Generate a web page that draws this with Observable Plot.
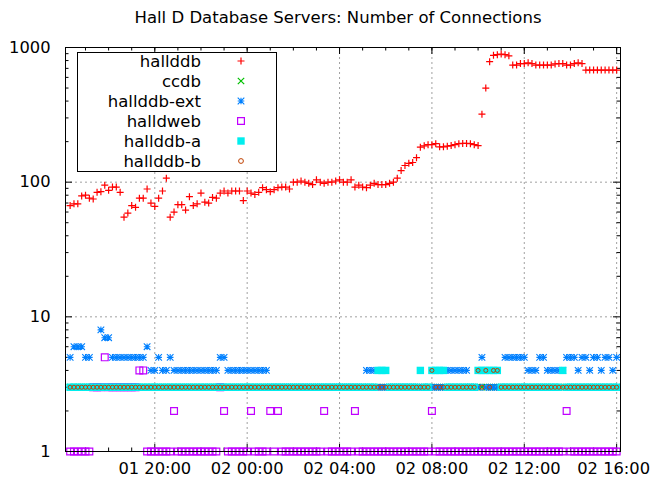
<!DOCTYPE html>
<html><head><meta charset="utf-8">
<script src="https://cdn.jsdelivr.net/npm/d3@7"></script>
<script src="https://cdn.jsdelivr.net/npm/@observablehq/plot@0.6"></script>
<style>body{margin:0;background:#fff;} svg{display:block}</style>
</head><body><div id="chart"></div>
<script>
const title = "Hall D Database Servers: Number of Connections";
const seriesNames = ["hallddb","ccdb","hallddb-ext","halldweb","hallddb-a","hallddb-b"];
const startTime = "2019-03-01T16:20:00Z";
const stepMinutes = 10;
const xDomain = ["2019-03-01T16:08:00Z","2019-03-02T16:10:00Z"];
const xTicks = ["2019-03-01T20:00:00Z","2019-03-02T00:00:00Z","2019-03-02T04:00:00Z","2019-03-02T08:00:00Z","2019-03-02T12:00:00Z","2019-03-02T16:00:00Z"];
const yTicks = [1,10,100,1000];
const yMinorTicks = [2,3,4,5,6,7,8,9,20,30,40,50,60,70,80,90,200,300,400,500,600,700,800,900];

const hallddb = [67,69,69,79,80,76,75,84,85,95,
 87,92,92,84,55,59,67,65,76,76,
 89,70,66,76,86,107,55,60,68,68,
 62,78,67,69,83,71,70,77,76,83,
 86,83,86,86,86,73,86,83,81,84,
 91,88,85,88,91,92,92,89,100,100,
 102,100,98,96,104,100,98,100,100,102,
 104,100,100,104,92,95,92,91,95,98,
 96,96,96,98,100,107,122,133,138,140,
 152,182,186,190,190,193,183,183,185,187,
 190,193,194,194,193,190,187,320,500,785,
 875,885,895,885,868,740,740,760,760,770,
 760,740,740,740,740,740,755,760,760,740,
 740,760,770,760,680,680,680,680,680,680,
 680,680,680];
const ccdb = [3,3,3,3,3,3,3,3,3,3, 3,3,3,3,3,3,3,3,3,3, 3,3,3,3,3,3,3,3,3,3, 3,3,3,3,3,3,3,3,3,3,
 3,3,3,3,3,3,3,3,3,3, 3,3,3,3,3,3,3,3,3,3, 3,3,3,3,3,3,3,3,3,3, 3,3,3,3,3,3,3,3,3,3,
 3,3,3,3,3,3,3,3,3,3, 3,3,3,3,3,3,3,3,3,3, 3,3,3,3,3,3,3,3,3,3, 3,3,3,3,3,3,3,3,3,3,
 3,3,3,3,3,3,3,3,3,3, 3,3,3,3,3,3,3,3,3,3, 3,3,3];
const hallddbExt = [5,6,6,6,5,5,3,3,8,7,
 7,5,5,5,5,5,5,5,5,5,
 6,4,4,5,4,4,5,4,4,4,
 4,4,4,4,4,4,4,4,4,5,
 5,4,4,4,4,4,4,4,4,4,
 4,4,3,3,3,3,3,3,3,3,
 3,3,3,3,3,3,3,3,3,3,
 3,3,3,3,3,3,3,4,4,4,
 3,3,3,3,3,3,3,3,3,3,
 3,3,3,3,3,3,3,3,4,4,
 4,4,4,4,3,3,3,5,3,3,
 3,3,3,5,5,5,5,5,5,4,
 4,4,5,5,4,4,4,4,4,5,
 5,5,4,5,5,4,5,5,4,5,
 5,4,5];
const halldweb = [1,1,1,1,1,1,3,3,3,5,
 3,3,3,3,3,3,3,3,4,4,
 1,1,1,1,1,1,1,2,1,1,
 1,1,1,1,1,1,1,1,1,3,
 2,1,1,1,1,1,1,2,1,1,
 1,1,2,1,2,1,1,1,1,1,
 1,1,1,1,1,1,2,1,1,1,
 1,1,1,1,2,1,1,1,1,1,
 1,1,1,1,1,1,1,1,1,1,
 1,1,1,1,2,1,1,1,1,1,
 1,1,1,1,1,1,1,1,1,1,
 1,1,1,1,1,1,1,1,1,1,
 1,1,1,1,1,1,1,1,1,2,
 1,1,1,1,1,1,1,1,1,1,
 1,1,1];
const hallddbA = [3,3,3,3,3,3,3,3,3,3, 3,3,3,3,3,3,3,3,3,3, 3,3,3,3,3,3,3,3,3,3, 3,3,3,3,3,3,3,3,3,3,
 3,3,3,3,3,3,3,3,3,3, 3,3,3,3,3,3,3,3,3,3, 3,3,3,3,3,3,3,3,3,3, 3,3,3,3,3,3,3,3,3,3,
 4,4,4,3,3,3,3,3,3,3,
 3,4,3,3,4,4,4,4,3,3,
 3,3,3,3,3,3,4,4,4,4,
 4,4,3,3,3,3,3,3,3,3,
 3,3,3,3,3,3,3,3,4,3,
 3,3,3,3,3,3,3,3,3,3, 3,3,3];
const hallddbB = [3,3,3,3,3,3,3,3,3,3, 3,3,3,3,3,3,3,3,3,3, 3,3,3,3,3,3,3,3,3,3, 3,3,3,3,3,3,3,3,3,3,
 3,3,3,3,3,3,3,3,3,3, 3,3,3,3,3,3,3,3,3,3, 3,3,3,3,3,3,3,3,3,3, 3,3,3,3,3,3,3,3,3,3,
 3,3,3,3,3,3,3,3,3,3,
 3,3,3,3,4,3,3,3,3,3,
 3,3,3,3,3,3,4,3,4,3,
 4,4,3,3,3,3,3,3,3,3,
 3,3,3,3,3,3,3,3,3,3,
 3,3,3,3,3,3,3,3,3,3, 3,3,3];

// ---- symbols (gnuplot-like point types) ----
const symPlus = {draw(c, s){const h=Math.sqrt(s/Math.PI); c.moveTo(-h,0);c.lineTo(h,0);c.moveTo(0,-h);c.lineTo(0,h);}};
const symTimes = {draw(c, s){const h=Math.sqrt(s/Math.PI); c.moveTo(-h,-h);c.lineTo(h,h);c.moveTo(-h,h);c.lineTo(h,-h);}};
const symStar = {draw(c, s){const h=Math.sqrt(s/Math.PI); c.moveTo(-h,0);c.lineTo(h,0);c.moveTo(0,-h);c.lineTo(0,h);c.moveTo(-h,-h);c.lineTo(h,h);c.moveTo(-h,h);c.lineTo(h,-h);}};
const symSquare = {draw(c, s){const h=Math.sqrt(s/Math.PI); c.moveTo(-h,-h);c.lineTo(h,-h);c.lineTo(h,h);c.lineTo(-h,h);c.closePath();}};
const symCircle = {draw(c, s){const h=Math.sqrt(s/Math.PI); c.moveTo(h,0);c.arc(0,0,h,0,2*Math.PI);}};

const styles = [
  {sym: symPlus,   r: 3.5, stroke: "#ff0000", fill: "none", sw: 1.2},
  {sym: symTimes,  r: 3.2, stroke: "#00c000", fill: "none", sw: 1.2},
  {sym: symStar,   r: 3.3, stroke: "#0080ff", fill: "none", sw: 1.1},
  {sym: symSquare, r: 3.4, stroke: "#c000ff", fill: "none", sw: 1.2},
  {sym: symSquare, r: 3.7, stroke: "none",    fill: "#00eeee", sw: 0},
  {sym: symCircle, r: 2.0, stroke: "#c04000", fill: "none", sw: 1.0}
];
const seriesValues = [hallddb, ccdb, hallddbExt, halldweb, hallddbA, hallddbB];

const W = 650, H = 478, mt = 47, mb = 27, ml = 65, mr = 30;
const plotH = H - mt - mb, plotW = W - ml - mr;
const t0 = Date.parse(startTime);
const toRows = (vals) => vals.map((v, i) => ({t: new Date(t0 + i * stepMinutes * 60000), v})).filter(d => d.v != null);
const xd = xDomain.map(d => new Date(d));
const xTickDates = xTicks.map(d => new Date(d));
const hours = d3.utcHour.range(xd[0], xd[1]);
const gridStyle = {stroke: "#a0a0a0", strokeWidth: 1, strokeDasharray: "2,3"};

const dotMarks = seriesValues.map((vals, k) => {
  const s = styles[k];
  return Plot.dot(toRows(vals), {x: "t", y: "v", symbol: s.sym, r: s.r, stroke: s.stroke, fill: s.fill, strokeWidth: s.sw});
});

const chart = Plot.plot({
  width: W, height: H,
  marginTop: mt, marginBottom: mb, marginLeft: ml, marginRight: mr,
  style: {fontFamily: "DejaVu Sans", fontSize: "16.3px", color: "black", background: "white", overflow: "visible"},
  x: {type: "utc", domain: xd, ticks: xTickDates, tickFormat: d3.utcFormat("%d %H:%M"), tickSize: 0, tickPadding: 11, label: null},
  y: {type: "log", domain: [1, 1000], ticks: yTicks, tickFormat: d => String(d), tickSize: 0, tickPadding: 15, label: null},
  marks: [
    Plot.ruleY([10, 100], gridStyle),
    Plot.ruleX(xTickDates, gridStyle),
    Plot.ruleX(hours, {stroke: "black", insetTop: plotH - 3.5}),
    Plot.ruleX(hours, {stroke: "black", insetBottom: plotH - 3.5}),
    Plot.ruleX(xTickDates, {stroke: "black", insetTop: plotH - 7}),
    Plot.ruleX(xTickDates, {stroke: "black", insetBottom: plotH - 7}),
    Plot.ruleY(yMinorTicks, {stroke: "black", insetRight: plotW - 3.5}),
    Plot.ruleY(yMinorTicks, {stroke: "black", insetLeft: plotW - 3.5}),
    Plot.ruleY(yTicks, {stroke: "black", insetRight: plotW - 7}),
    Plot.ruleY(yTicks, {stroke: "black", insetLeft: plotW - 7}),
    ...dotMarks,
    Plot.frame({stroke: "black", strokeWidth: 1})
  ]
});
document.getElementById("chart").appendChild(chart);

const svg = d3.select(chart);
// keep the last x tick label inside the picture
const xLabels = svg.selectAll("text").filter(function() { return this.textContent === "02 16:00"; });
xLabels.attr("dx", "-3px");
svg.append("text").attr("x", 338).attr("y", 23).attr("text-anchor", "middle")
  .attr("fill", "black").style("font-size", "16.5px").text(title);
const lg = svg.append("g");
lg.append("rect").attr("x", 77.5).attr("y", 52.5).attr("width", 199).attr("height", 119)
  .attr("fill", "white").attr("stroke", "black");
seriesNames.forEach((name, k) => {
  const y = 61 + 20 * k, s = styles[k];
  lg.append("text").attr("x", 201).attr("y", y).attr("dy", "0.36em").attr("text-anchor", "end")
    .attr("fill", "black").style("font-size", "16.5px").text(name);
  const lr = k === 5 ? 2.4 : s.r;
  lg.append("path").attr("transform", `translate(241,${y})`)
    .attr("d", d3.symbol(s.sym, Math.PI * lr * lr)())
    .attr("fill", s.fill).attr("stroke", s.stroke).attr("stroke-width", s.sw);
});
</script></body></html>
